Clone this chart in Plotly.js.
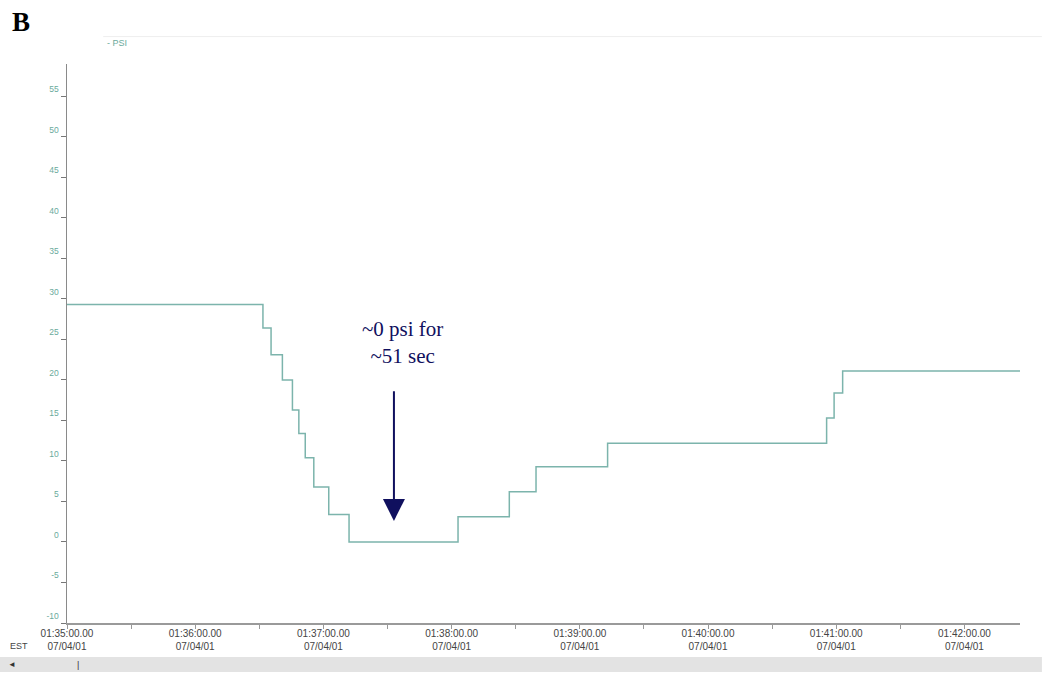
<!DOCTYPE html>
<html>
<head>
<meta charset="utf-8">
<script src="https://cdn.plot.ly/plotly-3.0.1.min.js"></script>
<style>html,body{margin:0;padding:0;background:#fff;}#chart{width:1042px;height:675px;}</style>
</head>
<body>
<div id="chart"></div>
<script>
// Pressure trace (step changes)
const times = [
  "2001-07-04 01:35:00", "2001-07-04 01:36:31.7", "2001-07-04 01:36:35.5",
  "2001-07-04 01:36:40.8", "2001-07-04 01:36:45.5", "2001-07-04 01:36:48.5",
  "2001-07-04 01:36:51.5", "2001-07-04 01:36:55.5", "2001-07-04 01:37:02.5",
  "2001-07-04 01:37:12", "2001-07-04 01:38:03", "2001-07-04 01:38:27",
  "2001-07-04 01:38:39.5", "2001-07-04 01:39:13", "2001-07-04 01:40:55.5",
  "2001-07-04 01:40:59", "2001-07-04 01:41:03", "2001-07-04 01:42:26"
];
const psi = [29.3, 26.4, 23.1, 20.0, 16.3, 13.4, 10.4, 6.8, 3.4, 0, 3.1, 6.2, 9.3, 12.2, 15.3, 18.4, 21.1, 21.1];

const xTickVals = ["2001-07-04 01:35:00", "2001-07-04 01:36:00", "2001-07-04 01:37:00", "2001-07-04 01:38:00",
                   "2001-07-04 01:39:00", "2001-07-04 01:40:00", "2001-07-04 01:41:00", "2001-07-04 01:42:00"];
const xTickText = ["01:35:00.00<br>07/04/01", "01:36:00.00<br>07/04/01", "01:37:00.00<br>07/04/01", "01:38:00.00<br>07/04/01",
                   "01:39:00.00<br>07/04/01", "01:40:00.00<br>07/04/01", "01:41:00.00<br>07/04/01", "01:42:00.00<br>07/04/01"];
const yTickVals = [-10, -5, 0, 5, 10, 15, 20, 25, 30, 35, 40, 45, 50, 55];
const yTickText = ["-10", "-5", "0", "5", "10", "15", "20", "25", "30", "35", "40", "45", "50", "55"];

const annotText = "~0 psi for<br>~51 sec";
const arrowTime = "2001-07-04 01:37:33";
const textTime = "2001-07-04 01:37:37";
const arrowTip = 2.6, arrowTail = 18.8, textY = 24.6;

const trace = {
  x: times, y: psi, type: "scatter", mode: "lines",
  line: {shape: "hv", color: "#7cb4ac", width: 1.5},
  name: "PSI", hoverinfo: "skip"
};

const layout = {
  width: 1042, height: 675,
  margin: {l: 67, r: 22, t: 64, b: 52},
  paper_bgcolor: "#ffffff", plot_bgcolor: "#ffffff",
  showlegend: false,
  font: {family: "Liberation Sans, Arial, sans-serif"},
  xaxis: {
    type: "date",
    range: ["2001-07-04 01:35:00", "2001-07-04 01:42:26"],
    tickmode: "array", tickvals: xTickVals, ticktext: xTickText,
    ticks: "", showgrid: false, zeroline: false,
    showline: true, linecolor: "#9a9a9a", linewidth: 1.5,
    tickfont: {size: 10, color: "#444"},
    minor: {dtick: 30000, ticks: "outside", ticklen: 4, tickcolor: "#999", showgrid: false, tick0: "2001-07-04 01:35:00"},
    fixedrange: true
  },
  yaxis: {
    range: [-10, 59],
    tickmode: "array", tickvals: yTickVals, ticktext: yTickText,
    ticks: "outside", ticklen: 5, tickcolor: "#777", tickwidth: 1,
    ticklabelshift: -7,
    showgrid: false, zeroline: false,
    showline: true, linecolor: "#8a8a8a", linewidth: 1.5,
    tickfont: {size: 8.5, color: "#6aaa9c"},
    fixedrange: true
  },
  shapes: [
    {type: "line", xref: "paper", yref: "paper", x0: 0.038, x1: 1.023, y0: 1.049, y1: 1.049,
     line: {color: "#eeeeee", width: 1}},
    {type: "rect", xref: "paper", yref: "paper", x0: -0.0703, x1: 1.023, y0: -0.0608, y1: -0.0877,
     fillcolor: "#e3e3e3", line: {width: 0}}
  ],
  annotations: [
    {xref: "paper", yref: "paper", x: -0.0483, y: 1.075, yanchor: "middle", xanchor: "center", text: "<b>B</b>", showarrow: false,
     font: {family: "Liberation Serif, Times New Roman, serif", size: 27, color: "#000"}},
    {xref: "paper", yref: "paper", x: 0.0395, y: 1.038, yanchor: "middle", xanchor: "left", text: "- PSI", showarrow: false,
     font: {size: 9, color: "#6aaa9c"}},
    {xref: "paper", yref: "paper", x: -0.05, y: -0.0413, yanchor: "middle", xanchor: "center", text: "EST", showarrow: false,
     font: {size: 9, color: "#444"}},
    {xref: "paper", yref: "paper", x: -0.0573, y: -0.0745, yanchor: "middle", xanchor: "center", text: "◄", showarrow: false,
     font: {size: 8, color: "#333"}},
    {xref: "paper", yref: "paper", x: 0.0115, y: -0.0745, yanchor: "middle", xanchor: "center", text: "|", showarrow: false,
     font: {size: 9, color: "#333"}},
    {x: textTime, y: textY, xref: "x", yref: "y", text: annotText, showarrow: false,
     font: {family: "Liberation Serif, Times New Roman, serif", size: 21, color: "#10105e"}},
    {x: arrowTime, y: arrowTip, xref: "x", yref: "y", ax: arrowTime, ay: arrowTail, axref: "x", ayref: "y",
     text: "", showarrow: true, arrowhead: 2, arrowsize: 2.2, arrowwidth: 2, arrowcolor: "#10105e"}
  ]
};

Plotly.newPlot("chart", [trace], layout, {displayModeBar: false, staticPlot: true});
</script>
</body>
</html>
